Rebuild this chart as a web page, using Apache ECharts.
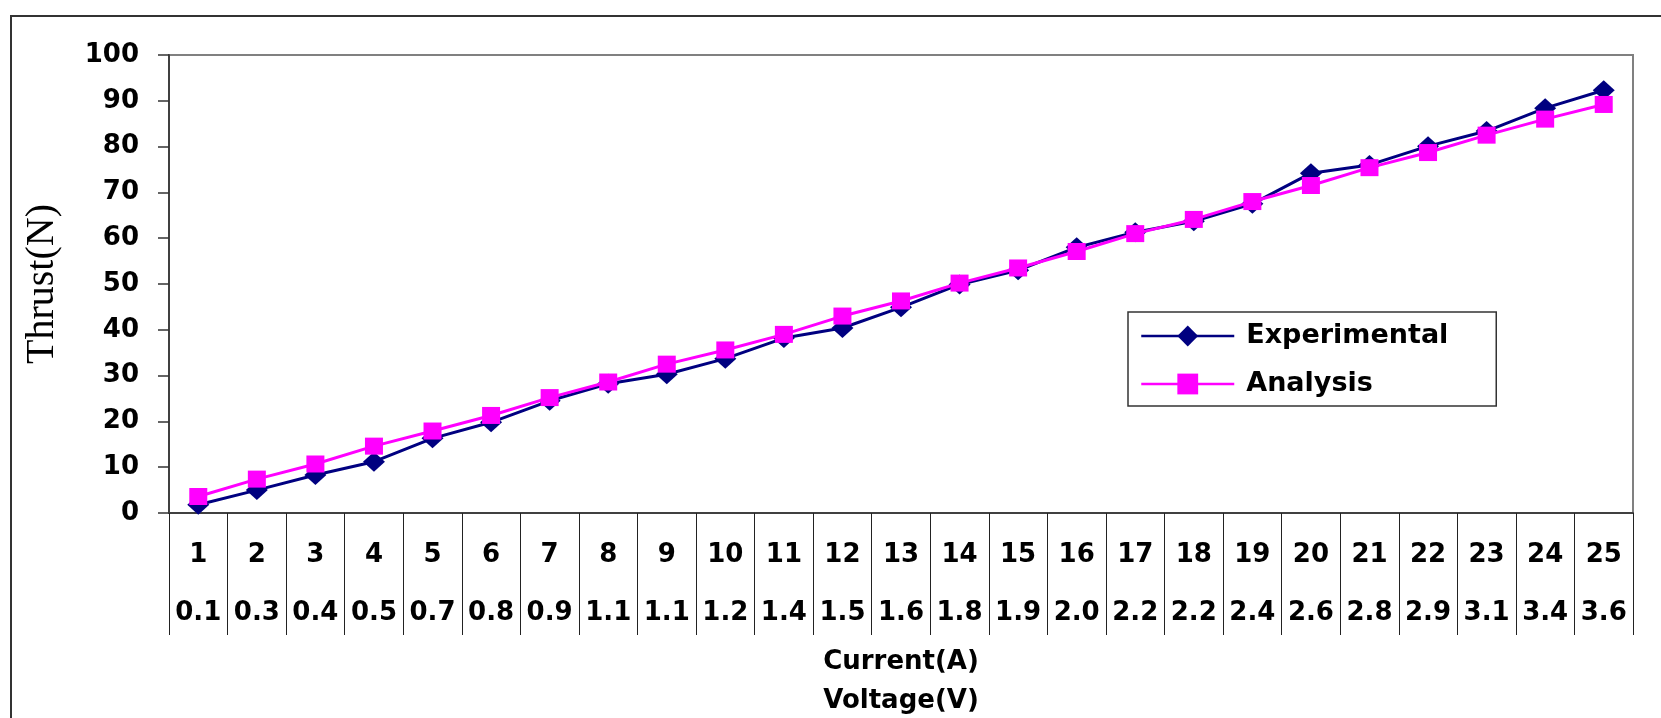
<!DOCTYPE html>
<html>
<head>
<meta charset="utf-8">
<script src="https://cdn.jsdelivr.net/npm/echarts@6/dist/echarts.min.js"></script>
<style>
html,body{margin:0;padding:0;background:#fff;}
#chart{width:1661px;height:718px;}
</style>
</head>
<body>
<div id="chart"></div>
<script>
const currentLabels = ['1','2','3','4','5','6','7','8','9','10','11','12','13','14','15','16','17','18','19','20','21','22','23','24','25'];
const voltageLabels = ['0.1','0.3','0.4','0.5','0.7','0.8','0.9','1.1','1.1','1.2','1.4','1.5','1.6','1.8','1.9','2.0','2.2','2.2','2.4','2.6','2.8','2.9','3.1','3.4','3.6'];
const experimental = [1.8, 5.0, 8.3, 11.2, 16.3, 19.8, 24.5, 28.2, 30.3, 33.7, 38.2, 40.4, 44.9, 49.9, 53.0, 58.0, 61.3, 63.7, 67.5, 74.2, 76.0, 80.1, 83.4, 88.4, 92.3];
const analysis = [3.6, 7.4, 10.7, 14.6, 17.9, 21.3, 25.2, 28.6, 32.5, 35.6, 39.0, 43.0, 46.3, 50.2, 53.5, 57.1, 61.0, 64.1, 68.0, 71.5, 75.4, 78.7, 82.5, 86.0, 89.2];
const yTicks = {min: 0, max: 100, interval: 10};

const categories = currentLabels.map((c, i) => c + '|' + voltageLabels[i]);
const FONT = 'DejaVu Sans';

const chart = echarts.init(document.getElementById('chart'), null, {renderer: 'canvas'});
chart.setOption({
  animation: false,
  backgroundColor: '#ffffff',
  grid: {
    left: 169, right: 28, top: 55, height: 458,
    containLabel: false,
    outerBoundsMode: 'none',
    show: true,
    borderColor: '#808080',
    borderWidth: 2,
    backgroundColor: 'transparent'
  },
  graphic: [{
    type: 'polyline',
    shape: {points: [[11, 718], [11, 16], [1661, 16]]},
    style: {stroke: '#333333', lineWidth: 2, fill: null},
    silent: true
  }],
  legend: {
    left: 1128, top: 312,
    orient: 'vertical',
    backgroundColor: '#ffffff',
    borderColor: '#333333',
    borderWidth: 1.5,
    borderRadius: 0,
    padding: [9, 14, 7, 12],
    itemWidth: 93,
    itemHeight: 26,
    itemGap: 18,
    lineStyle: {width: 2.5},
    textStyle: {
      fontFamily: FONT, fontWeight: 'bold', fontSize: 27, color: '#000',
      lineHeight: 30, width: 236, padding: [0, 0, 0, 7]
    },
    data: ['Experimental', 'Analysis']
  },
  xAxis: {
    type: 'category',
    data: categories,
    boundaryGap: true,
    axisLine: {show: true, onZero: false, lineStyle: {color: '#404040', width: 2}},
    axisTick: {show: true, length: 122, inside: false, lineStyle: {color: '#222', width: 1}},
    splitLine: {show: false},
    axisLabel: {
      interval: 0,
      margin: 13,
      formatter: function (v) {
        const p = v.split('|');
        return '{a|' + p[0] + '}\n{b|' + p[1] + '}';
      },
      rich: {
        a: {fontFamily: FONT, fontWeight: 'bold', fontSize: 26, color: '#000', lineHeight: 58},
        b: {fontFamily: FONT, fontWeight: 'bold', fontSize: 26, color: '#000', lineHeight: 58}
      }
    },
    name: 'Current(A)\nVoltage(V)',
    nameLocation: 'middle',
    nameGap: 130,
    nameTextStyle: {fontFamily: FONT, fontWeight: 'bold', fontSize: 26, color: '#000', lineHeight: 39}
  },
  yAxis: {
    type: 'value',
    min: yTicks.min, max: yTicks.max, interval: yTicks.interval,
    axisLine: {show: true, lineStyle: {color: '#404040', width: 2}},
    axisTick: {show: true, length: 11, inside: false, lineStyle: {color: '#333', width: 1.5}},
    splitLine: {show: false},
    axisLabel: {margin: 30, fontFamily: FONT, fontWeight: 'bold', fontSize: 26, color: '#000'},
    name: 'Thrust(N)',
    nameLocation: 'middle',
    nameGap: 107,
    nameTextStyle: {fontFamily: 'Liberation Serif', fontSize: 40, color: '#000'}
  },
  series: [
    {
      name: 'Experimental',
      type: 'line',
      data: experimental,
      symbol: 'diamond',
      symbolSize: [22, 20],
      lineStyle: {color: '#000080', width: 3},
      itemStyle: {color: '#000080'},
      z: 2
    },
    {
      name: 'Analysis',
      type: 'line',
      data: analysis,
      symbol: 'rect',
      symbolSize: [18, 17],
      lineStyle: {color: '#FF00FF', width: 3},
      itemStyle: {color: '#FF00FF'},
      z: 3
    }
  ]
});
</script>
</body>
</html>
